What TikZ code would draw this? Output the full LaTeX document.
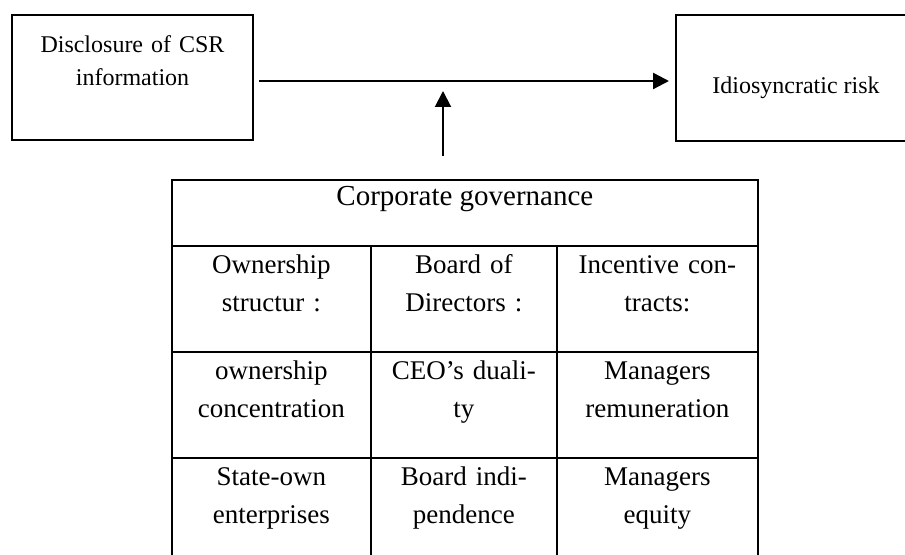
\documentclass[tikz,border=0pt]{standalone}
\usepackage{fontspec}
\setmainfont{Liberation Serif}
\usetikzlibrary{arrows.meta,positioning}
\tikzset{
  box/.style={draw, line width=1pt, inner sep=0pt, anchor=north west},
  cell/.style={draw, line width=0.9pt, inner sep=0pt, anchor=north west, minimum height=53pt},
  celltext/.style={anchor=base, inner sep=0pt, align=center, font=\fontsize{13.5}{19}\selectfont},
  flow/.style={-{Triangle[length=8pt,width=8pt]}, line width=1.2pt}
}
\newcommand{\govcell}[4] {\node at (#1) (#2) [cell, minimum width=#3pt] {};
  \node at ([yshift=-14.5pt]#2.north) (#2-text) [celltext, text width=#3pt] {#4};}

\begin{document}
\begin{tikzpicture}[x=0.5pt, y=-0.5pt]
\useasboundingbox (0,0) rectangle (905,555);
\clip (0,0) rectangle (905,555);

\node at (11,14) (csr) [box, minimum width=120.5pt, minimum height=62.5pt] {};
\node at ([yshift=-19.5pt]csr.north) (csr-text) [anchor=base, inner sep=0pt, align=center, text width=120pt, font=\fontsize{12}{16.5}\selectfont] {Disclosure of CSR\\information};
\node at (675,14) (risk) [box, minimum width=150pt, minimum height=63pt] {};
\node at (796,94) (risk-text) [anchor=base, inner sep=0pt, font=\fontsize{12}{14}\selectfont] {Idiosyncratic risk};

\node at (171,179) (gov) [cell, minimum width=293pt, minimum height=33pt] {};
\node at ([yshift=-13.5pt]gov.north) (gov-text) [celltext, font=\fontsize{14.5}{19}\selectfont] {Corporate governance};

\govcell{171,245}{own}{99.5}{Ownership\\structur :}
\govcell{370,245}{board}{93}{Board of\\Directors :}
\govcell{556,245}{incent}{100.5}{Incentive con-\\tracts:}
\govcell{171,351}{conc}{99.5}{ownership\\concentration}
\govcell{370,351}{dual}{93}{CEO’s duali-\\ty}
\govcell{556,351}{remun}{100.5}{Managers\\remuneration}
\govcell{171,457}{state}{99.5}{State-own\\enterprises}
\govcell{370,457}{indep}{93}{Board indi-\\pendence}
\govcell{556,457}{equity}{100.5}{Managers\\equity}

\draw [flow, shorten <=2.5pt, shorten >=3pt] ([yshift=-1.75pt]csr.east) -- coordinate[pos=0.5] (join) ([yshift=-1.75pt]csr.east -| risk.west);
\coordinate (cgtail) at (443,156);
\draw [flow, line width=1pt, shorten >=5pt] (cgtail) -- (cgtail |- join);
\end{tikzpicture}
\end{document}
